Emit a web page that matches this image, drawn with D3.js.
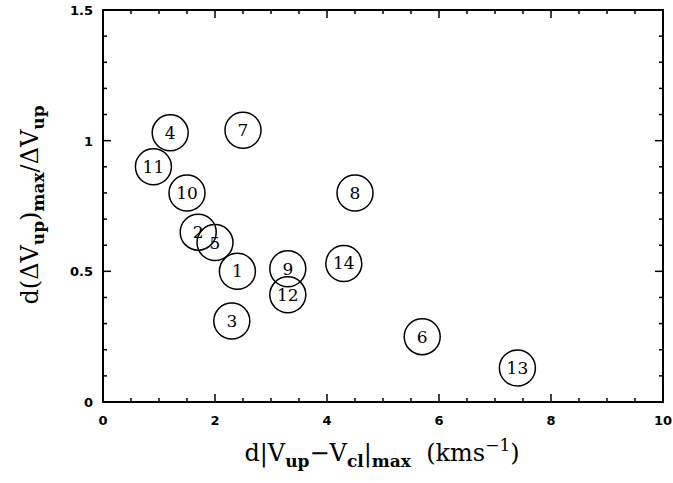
<!DOCTYPE html>
<html>
<head>
<meta charset="utf-8">
<script src="https://cdn.jsdelivr.net/npm/d3@7"></script>
<style>
  body { margin: 0; background: #fff; }
  svg { display: block; }
  .tick-label { font-family: "DejaVu Sans", sans-serif; font-weight: bold; font-size: 13px; }
  .title { font-family: "DejaVu Serif", serif; font-size: 24px; }
  .pt-label { font-family: "DejaVu Serif", serif; font-size: 17px; }
</style>
</head>
<body>
<svg id="chart" width="673" height="483"></svg>
<script>
// Cloud identifiers and measured values
const ids    = ["1", "2", "3", "4", "5", "6", "7", "8", "9", "10", "11", "12", "13", "14"];
const xVals  = [2.4, 1.7, 2.3, 1.2, 2.0, 5.7, 2.5, 4.5, 3.3, 1.5, 0.9, 3.3, 7.4, 4.3];
const yVals  = [0.50, 0.65, 0.31, 1.03, 0.61, 0.25, 1.04, 0.80, 0.51, 0.80, 0.90, 0.41, 0.13, 0.53];

const xMajor = [0, 2, 4, 6, 8, 10];
const xTickLabels = ["0", "2", "4", "6", "8", "10"];
const yMajor = [0, 0.5, 1, 1.5];
const yTickLabels = ["0", "0.5", "1", "1.5"];

const plotL = 103, plotR = 663, plotT = 10, plotB = 402;

const svg = d3.select("#chart");
const x = d3.scaleLinear().domain([0, 10]).range([plotL, plotR]);
const y = d3.scaleLinear().domain([0, 1.5]).range([plotB, plotT]);

const xMinor = d3.range(0, 10.001, 0.5);
const yMinor = d3.range(0, 1.5001, 0.1);

// frame
svg.append("rect")
  .attr("x", plotL).attr("y", plotT)
  .attr("width", plotR - plotL).attr("height", plotB - plotT)
  .attr("fill", "none").attr("stroke", "#000").attr("stroke-width", 2);

const majLen = 8, minLen = 4;
const isMajorX = v => Math.abs(v / 2 - Math.round(v / 2)) < 1e-6;
const isMajorY = v => Math.abs(v / 0.5 - Math.round(v / 0.5)) < 1e-6;

const ticks = svg.append("g").attr("stroke", "#000").attr("stroke-width", 1.5);
xMinor.forEach(v => {
  const len = isMajorX(v) ? majLen : minLen;
  ticks.append("line").attr("x1", x(v)).attr("x2", x(v)).attr("y1", plotB).attr("y2", plotB - len);
  ticks.append("line").attr("x1", x(v)).attr("x2", x(v)).attr("y1", plotT).attr("y2", plotT + len);
});
yMinor.forEach(v => {
  const len = isMajorY(v) ? majLen : minLen;
  ticks.append("line").attr("y1", y(v)).attr("y2", y(v)).attr("x1", plotL).attr("x2", plotL + len);
  ticks.append("line").attr("y1", y(v)).attr("y2", y(v)).attr("x1", plotR).attr("x2", plotR - len);
});

// tick labels
svg.append("g").selectAll("text").data(xMajor).join("text")
  .attr("class", "tick-label")
  .attr("x", d => x(d)).attr("y", plotB + 23)
  .attr("text-anchor", "middle")
  .text((d, i) => xTickLabels[i]);

svg.append("g").selectAll("text").data(yMajor).join("text")
  .attr("class", "tick-label")
  .attr("x", plotL - 10).attr("y", d => y(d) + 5)
  .attr("text-anchor", "end")
  .text((d, i) => yTickLabels[i]);

// points
const pts = svg.append("g");
ids.forEach((id, i) => {
  pts.append("circle")
    .attr("cx", x(xVals[i])).attr("cy", y(yVals[i])).attr("r", 18)
    .attr("fill", "none").attr("stroke", "#000").attr("stroke-width", 1.5);
  pts.append("text")
    .attr("class", "pt-label")
    .attr("x", x(xVals[i])).attr("y", y(yVals[i]) + 6)
    .attr("text-anchor", "middle")
    .text(id);
});

// x title
const xt = svg.append("text").attr("class", "title")
  .attr("x", 382).attr("y", 461).attr("text-anchor", "middle");
xt.append("tspan").text("d|V");
xt.append("tspan").attr("dy", 6).attr("font-size", 17).attr("font-weight", "bold").text("up");
xt.append("tspan").attr("dy", -6).text("\u2212V");
xt.append("tspan").attr("dy", 6).attr("font-size", 17).attr("font-weight", "bold").text("cl");
xt.append("tspan").attr("dy", -6).text("|");
xt.append("tspan").attr("dy", 6).attr("font-size", 17).attr("font-weight", "bold").text("max");
xt.append("tspan").attr("dy", -6).text("\u00a0 (kms");
xt.append("tspan").attr("dy", -10).attr("font-size", 17).text("\u22121");
xt.append("tspan").attr("dy", 10).text(")");

// y title
const yt = svg.append("text").attr("class", "title")
  .attr("transform", `translate(38, 205) rotate(-90)`)
  .attr("text-anchor", "middle");
yt.append("tspan").text("d(\u0394V");
yt.append("tspan").attr("dy", 6).attr("font-size", 17).attr("font-weight", "bold").text("up");
yt.append("tspan").attr("dy", -6).text(")");
yt.append("tspan").attr("dy", 6).attr("font-size", 17).attr("font-weight", "bold").text("max");
yt.append("tspan").attr("dy", -6).text("/\u0394V");
yt.append("tspan").attr("dy", 6).attr("font-size", 17).attr("font-weight", "bold").text("up");
</script>
</body>
</html>
